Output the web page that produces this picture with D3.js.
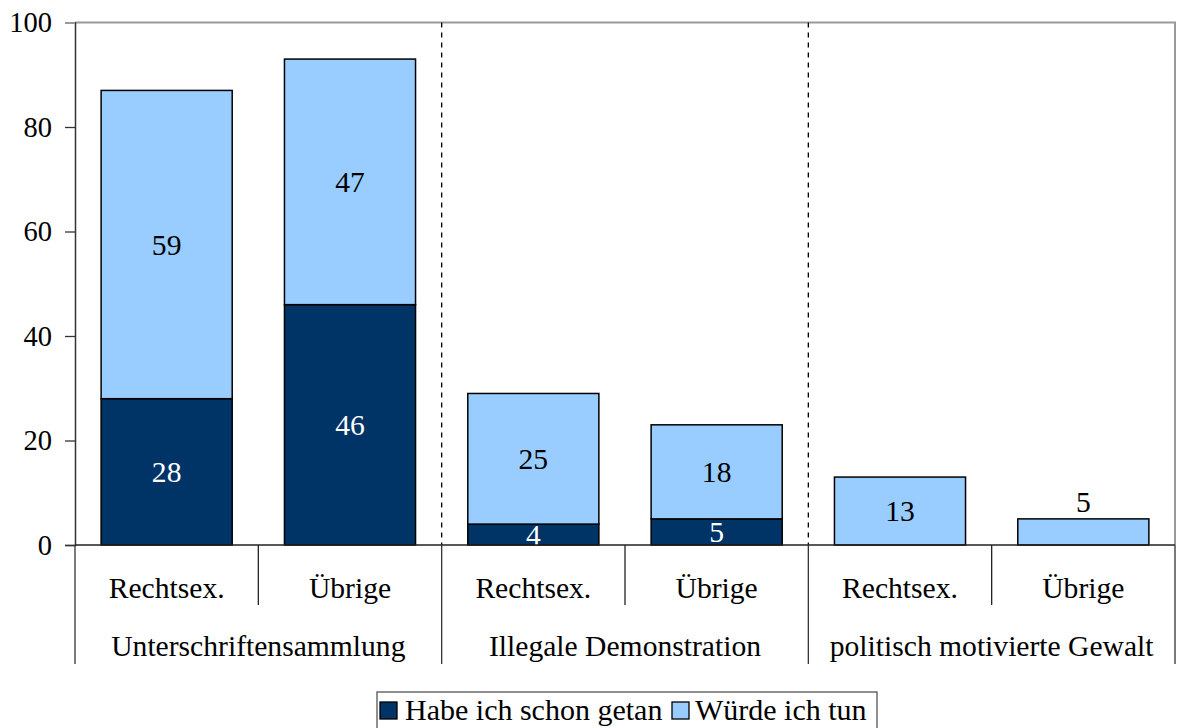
<!DOCTYPE html>
<html>
<head>
<meta charset="utf-8">
<script src="https://cdn.jsdelivr.net/npm/d3@7"></script>
<style>
  html, body { margin: 0; padding: 0; background: #fff; }
</style>
</head>
<body>
<svg id="chart" width="1178" height="728"></svg>
<script>
// ---- data ----
const groups = ["Unterschriftensammlung", "Illegale Demonstration", "politisch motivierte Gewalt"];
const subCategories = ["Rechtsex.", "Übrige"];
const habeValues = [28, 46, 4, 5, 0, 0];     // Habe ich schon getan
const wuerdeValues = [59, 47, 25, 18, 13, 5]; // Würde ich tun
const seriesNames = ["Habe ich schon getan", "Würde ich tun"];
const yTicks = [0, 20, 40, 60, 80, 100];

(function () {
// ---- layout ----
const FONT = "Liberation Serif, Times New Roman, Tinos, DejaVu Serif, serif";
const svg = d3.select("#chart").attr("font-family", FONT).style("font-family", FONT);
const pLeft = 75, pRight = 1175, pTop = 22.5, pBottom = 545;
const colors = ["#003366", "#99CCFF"];
const fontSize = 29.6;

const bars = [];
groups.forEach((g, gi) => subCategories.forEach((s, si) => {
  const i = gi * subCategories.length + si;
  bars.push({ key: i, group: g, sub: s, habe: habeValues[i], wuerde: wuerdeValues[i] });
}));

const x = d3.scaleBand().domain(bars.map(d => d.key)).range([pLeft, pRight])
  .paddingInner(0.285).paddingOuter(0.1425);
const xGroup = d3.scaleBand().domain(groups).range([pLeft, pRight]).padding(0);
const y = d3.scaleLinear().domain([0, 100]).range([pBottom, pTop]);

// plot border (gray top & right)
svg.append("path")
  .attr("d", `M${pLeft},${pTop}H${pRight}V${pBottom}`)
  .attr("fill", "none").attr("stroke", "#999").attr("stroke-width", 2);

// dashed group separators inside plot
groups.slice(1).forEach(g => {
  const xv = xGroup(g);
  svg.append("line").attr("x1", xv).attr("x2", xv).attr("y1", pTop).attr("y2", pBottom)
    .attr("stroke", "#000").attr("stroke-width", 1.3).attr("stroke-dasharray", "5,5");
});

// stacked bars
const stackData = bars.map(d => ({ key: d.key, habe: d.habe, wuerde: d.wuerde }));
const stacked = d3.stack().keys(["habe", "wuerde"])(stackData);
stacked.forEach((layer, li) => {
  svg.append("g").selectAll("rect").data(layer.filter(d => d[1] - d[0] > 0)).join("rect")
    .attr("x", d => x(d.data.key))
    .attr("width", x.bandwidth())
    .attr("y", d => y(d[1]))
    .attr("height", d => y(d[0]) - y(d[1]))
    .attr("fill", colors[li])
    .attr("stroke", "#000").attr("stroke-width", 1.5);
});

function txt(sel, size) {
  return sel.attr("font-family", FONT).style("font-family", FONT).attr("font-size", size || fontSize);
}

// value labels
stacked.forEach((layer, li) => {
  svg.append("g").selectAll("text").data(layer.filter(d => d[1] - d[0] > 0)).join("text")
    .attr("x", d => x(d.data.key) + x.bandwidth() / 2)
    .attr("y", d => {
      const v = d[1] - d[0];
      if (li === 1 && v < 8) return y(d[1]) - 17;
      return (y(d[0]) + y(d[1])) / 2;
    })
    .attr("dy", "0.35em")
    .attr("text-anchor", "middle")
    .call(txt)
    .attr("fill", li === 0 ? "#fff" : "#000")
    .text(d => d[1] - d[0]);
});

// y axis
const yAxis = d3.axisLeft(y).tickValues(yTicks).tickSize(10).tickPadding(13).tickFormat(d3.format("d"));
const yg = svg.append("g").attr("transform", `translate(${pLeft},0)`).call(yAxis);
yg.attr("font-family", FONT);
yg.select(".domain").attr("stroke", "#333").attr("stroke-width", 1.5);
yg.selectAll(".tick line").attr("stroke", "#333").attr("stroke-width", 1.3);
yg.selectAll(".tick").filter(d => d === 100).select("line").attr("stroke", "#999").attr("stroke-width", 2);
yg.selectAll(".tick text").call(txt, 28.5).attr("fill", "#000");

// category axis line
svg.append("line").attr("x1", pLeft).attr("x2", pRight).attr("y1", pBottom).attr("y2", pBottom)
  .attr("stroke", "#222").attr("stroke-width", 1.5);

// sub-category separators
groups.forEach(g => {
  const xv = xGroup(g) + xGroup.bandwidth() / 2;
  svg.append("line").attr("x1", xv).attr("x2", xv).attr("y1", pBottom).attr("y2", 605)
    .attr("stroke", "#222").attr("stroke-width", 1.3);
});
// group separators
[...groups.map(g => xGroup(g)), pRight].forEach(xv => {
  svg.append("line").attr("x1", xv).attr("x2", xv).attr("y1", pBottom).attr("y2", 664)
    .attr("stroke", "#333").attr("stroke-width", 1.3);
});

// sub-category labels
svg.append("g").selectAll("text").data(bars).join("text")
  .attr("x", d => x(d.key) + x.bandwidth() / 2)
  .attr("y", 598)
  .attr("text-anchor", "middle")
  .call(txt)
  .text(d => d.sub);

// group labels
svg.append("g").selectAll("text").data(groups).join("text")
  .attr("x", d => xGroup(d) + xGroup.bandwidth() / 2)
  .attr("y", 656)
  .attr("text-anchor", "middle")
  .call(txt)
  .text(d => d);

// legend
const legend = svg.append("g");
legend.append("rect").attr("x", 377).attr("y", 692).attr("width", 500).attr("height", 45)
  .attr("fill", "#fff").attr("stroke", "#555").attr("stroke-width", 1.3);
const legendItems = [
  { name: seriesNames[0], color: colors[0], sx: 380, tx: 405 },
  { name: seriesNames[1], color: colors[1], sx: 672, tx: 695 }
];
legendItems.forEach(it => {
  legend.append("rect").attr("x", it.sx).attr("y", 702).attr("width", 17).attr("height", 17)
    .attr("fill", it.color).attr("stroke", "#000").attr("stroke-width", 1.3);
  legend.append("text").attr("x", it.tx).attr("y", 720).call(txt, 30).text(it.name);
});
})();
</script>
</body>
</html>
